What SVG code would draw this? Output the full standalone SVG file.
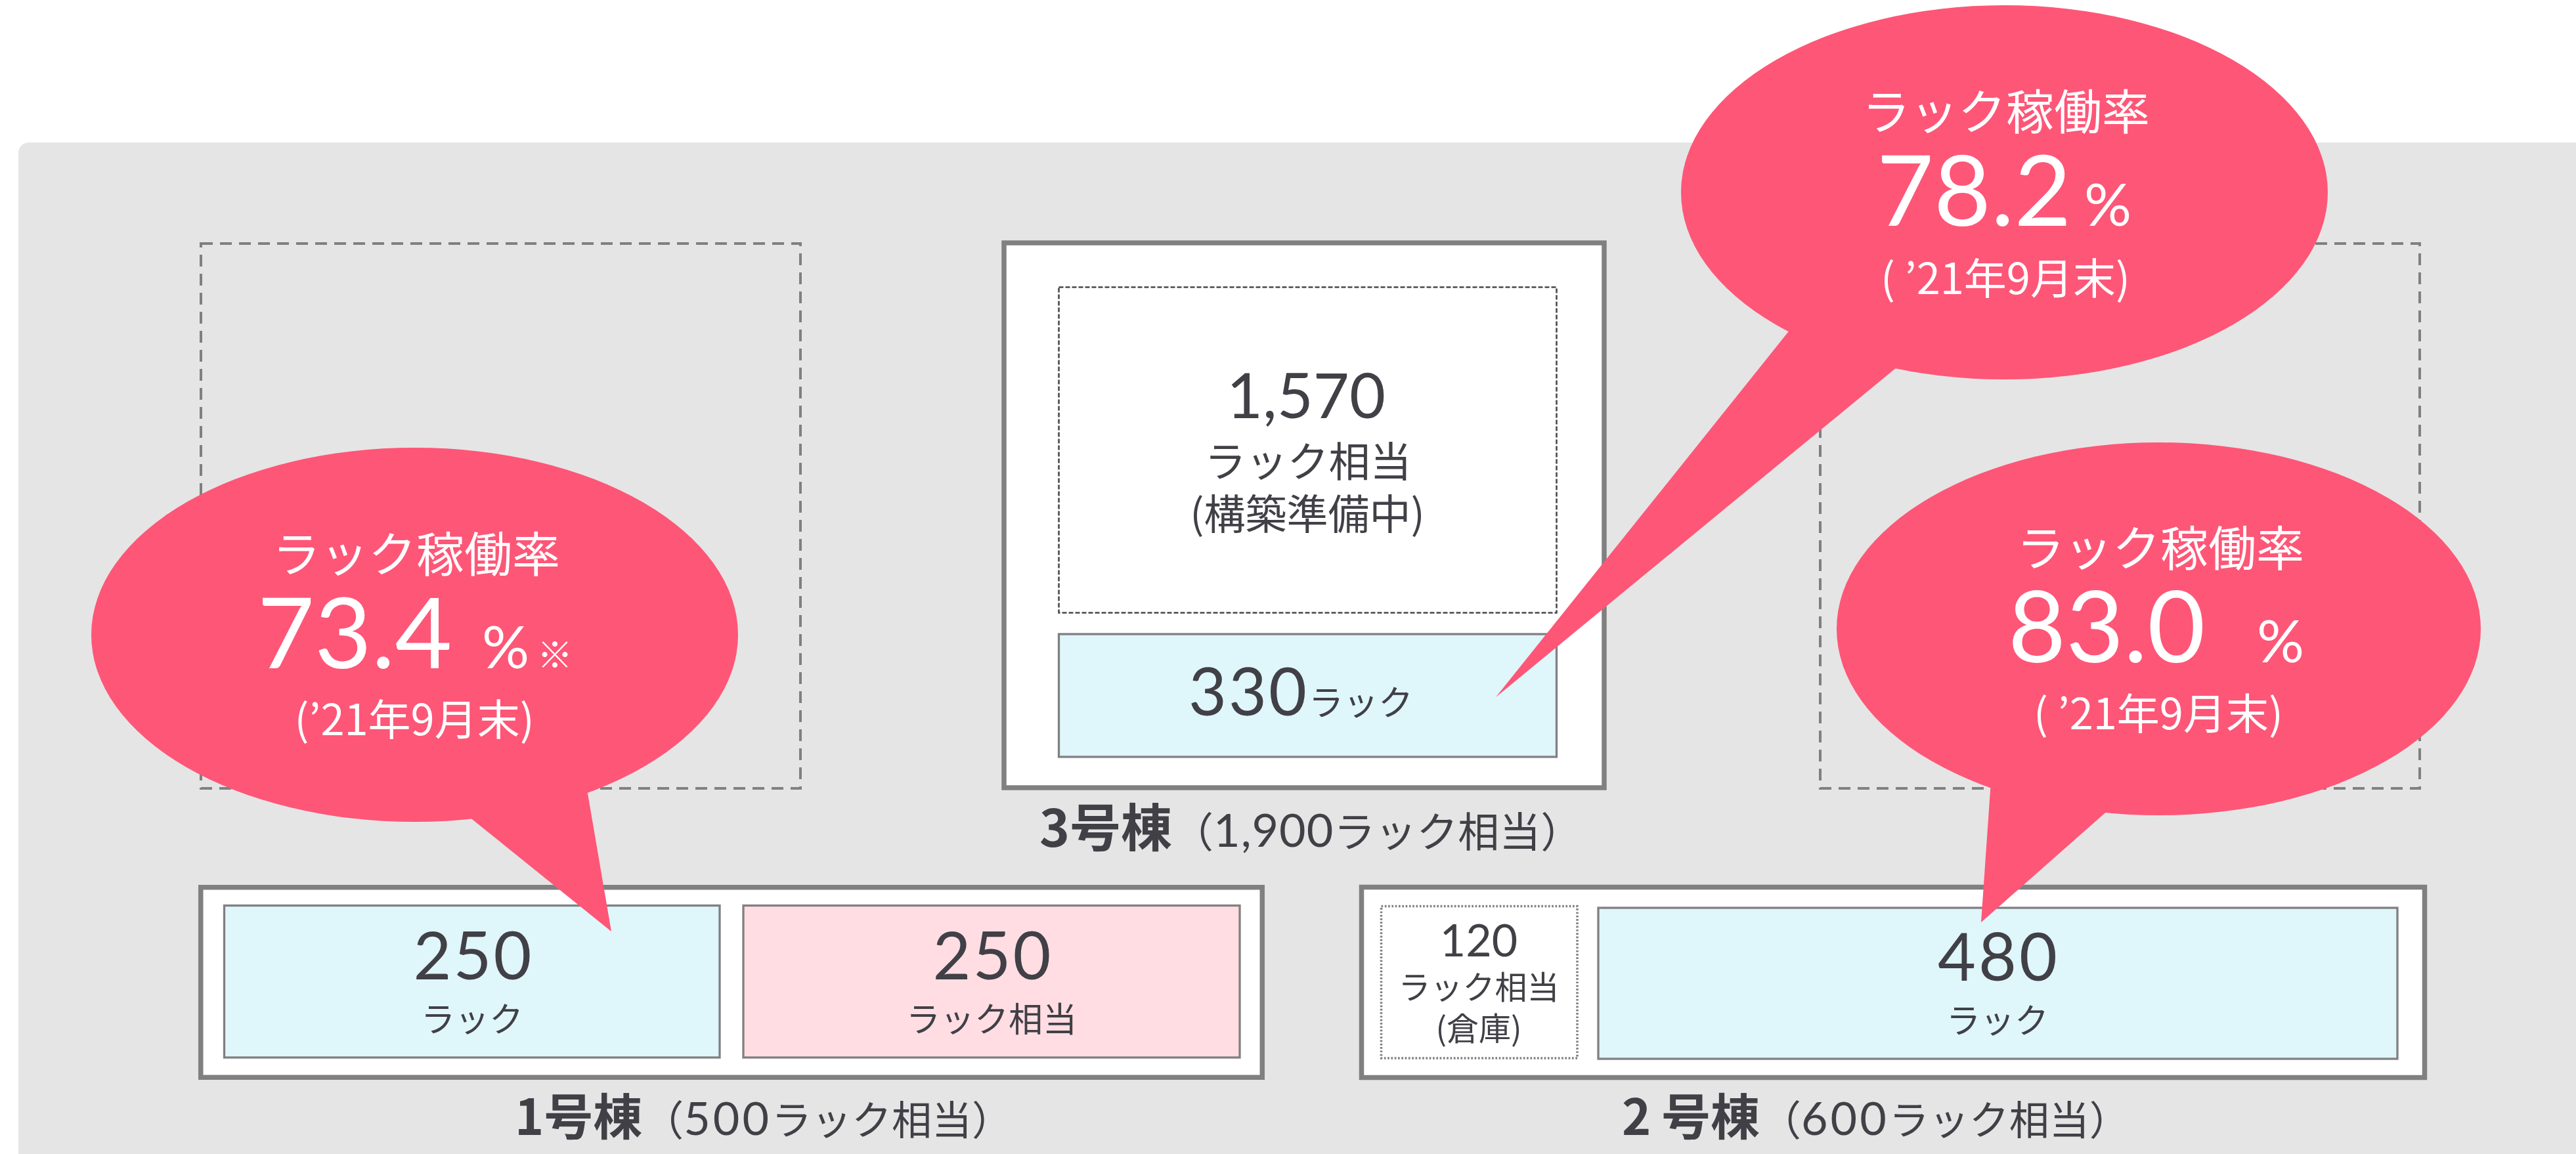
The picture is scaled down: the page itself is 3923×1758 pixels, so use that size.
<svg xmlns="http://www.w3.org/2000/svg" width="3923" height="1758" viewBox="0 0 3923 1758">
<style>
.jp{font-family:"Noto Sans CJK JP","Noto Sans",sans-serif;}
.num{font-family:Lato,"Liberation Sans",sans-serif;}
.dk{fill:#404046;}
.wh{fill:#ffffff;}
.ghost{fill:none;stroke:#808080;stroke-width:4;stroke-dasharray:18 11;}
.outer{fill:#ffffff;stroke:#808080;stroke-width:7.5;}
.blue{fill:#dff6fb;stroke:#808080;stroke-width:3.3;}
.pink{fill:#ffdde3;stroke:#808080;stroke-width:3.3;}
.bubble{fill:#fe5677;}
</style>
<rect x="28" y="217" width="3950" height="1600" rx="16" fill="#e5e5e5"/>
<g id="ghost-left"><rect class="ghost" x="306" y="371" width="913" height="830"/></g>
<g id="ghost-right"><rect class="ghost" x="2772" y="371" width="913" height="830"/></g>

<g id="building3">
<rect class="outer" x="1529" y="370" width="914" height="830"/>
<rect x="1612.5" y="437.5" width="758" height="496" fill="none" stroke="#4a4a4a" stroke-width="2.6" stroke-dasharray="7 3"/>
<text class="num dk" x="1989" y="637" font-size="95" text-anchor="middle">1,570</text>
<text class="jp dk" x="1992" y="726" font-size="63" text-anchor="middle">ラック相当</text>
<text class="jp dk" x="1991" y="806" font-size="63" text-anchor="middle">(構築準備中)</text>
<rect class="blue" x="1612.5" y="966" width="758" height="187"/>
<text class="dk" x="1810" y="1090"><tspan class="num" font-size="100" letter-spacing="3">330</tspan><tspan class="jp" font-size="53">ラック</tspan></text>
<text class="dk" x="1583" y="1290"><tspan class="jp" font-size="78" font-weight="bold">3号棟</tspan><tspan class="jp" font-size="63">（</tspan><tspan class="num" font-size="70" letter-spacing="1">1,900</tspan><tspan class="jp" font-size="63">ラック相当）</tspan></text>
</g>

<g id="building1">
<rect class="outer" x="305.75" y="1351.75" width="1616.5" height="289.5"/>
<rect class="blue" x="341.5" y="1379.5" width="754.5" height="231.5"/>
<text class="num dk" x="721" y="1492" font-size="100" letter-spacing="3" text-anchor="middle">250</text>
<text class="jp dk" x="719" y="1572" font-size="52" text-anchor="middle">ラック</text>
<rect class="pink" x="1132" y="1379.5" width="756" height="231.5"/>
<text class="num dk" x="1512" y="1492" font-size="100" letter-spacing="3" text-anchor="middle">250</text>
<text class="jp dk" x="1510" y="1572" font-size="52" text-anchor="middle">ラック相当</text>
<text class="dk" x="784" y="1729"><tspan class="jp" font-size="75" font-weight="bold">1号棟</tspan><tspan class="jp" font-size="63">（</tspan><tspan class="num" font-size="70" letter-spacing="4">500</tspan><tspan class="jp" font-size="61">ラック相当）</tspan></text>
</g>

<g id="building2">
<rect class="outer" x="2073.5" y="1351.5" width="1619" height="290"/>
<rect x="2103.5" y="1380.5" width="298.5" height="231.5" fill="#ffffff" stroke="#808080" stroke-width="3.5" stroke-dasharray="2.7 2.6"/>
<text class="num dk" x="2252" y="1457" font-size="68" text-anchor="middle">120</text>
<text class="jp dk" x="2252" y="1522" font-size="49" text-anchor="middle">ラック相当</text>
<text class="jp dk" x="2252" y="1585" font-size="49" text-anchor="middle">(倉庫)</text>
<rect class="blue" x="2434" y="1383" width="1217" height="230"/>
<text class="num dk" x="3044" y="1494" font-size="100" letter-spacing="4" text-anchor="middle">480</text>
<text class="jp dk" x="3042" y="1574" font-size="52" text-anchor="middle">ラック</text>
<text class="dk" y="1729"><tspan class="jp" x="2470" font-size="75" font-weight="bold">2</tspan><tspan class="jp" x="2530" font-size="75" font-weight="bold">号棟</tspan><tspan class="jp" font-size="63">（</tspan><tspan class="num" font-size="70" letter-spacing="4">600</tspan><tspan class="jp" font-size="61">ラック相当）</tspan></text>
</g>

<g id="callouts">
<g id="callout-building1">
<ellipse class="bubble" cx="631.5" cy="967" rx="492.5" ry="285"/>
<polygon class="bubble" points="704,1236 931,1419 893,1197"/>
<text class="jp wh" x="634" y="871" font-size="73" text-anchor="middle">ラック稼働率</text>
<text class="wh" y="1018"><tspan class="num" x="392" font-size="150">73.4</tspan><tspan class="num" x="734" font-size="90">%</tspan><tspan class="jp" x="818" font-size="54">※</tspan></text>
<text class="jp wh" x="631" y="1120" font-size="65" text-anchor="middle">(’21年9月末)</text>
</g>
<g id="callout-building3">
<ellipse class="bubble" cx="3052.5" cy="293" rx="492.5" ry="285"/>
<polygon class="bubble" points="2747,476 2278,1062 2916,537"/>
<text class="jp wh" x="3055" y="197" font-size="73" text-anchor="middle">ラック稼働率</text>
<text class="wh" y="344"><tspan class="num" x="2858" font-size="150">78.2</tspan><tspan class="num" x="3174" font-size="90">%</tspan></text>
<text class="jp wh" x="3054" y="448" font-size="65" text-anchor="middle">( ’21年9月末)</text>
</g>
<g id="callout-building2">
<ellipse class="bubble" cx="3287.5" cy="958" rx="490.5" ry="284"/>
<polygon class="bubble" points="3032,1190 3017,1405 3212,1233"/>
<text class="jp wh" x="3290" y="862" font-size="73" text-anchor="middle">ラック稼働率</text>
<text class="wh" y="1009"><tspan class="num" x="3058" font-size="152">83.0</tspan><tspan class="num" x="3437" font-size="90">%</tspan></text>
<text class="jp wh" x="3287" y="1111" font-size="65" text-anchor="middle">( ’21年9月末)</text>
</g>
</g>
</svg>
